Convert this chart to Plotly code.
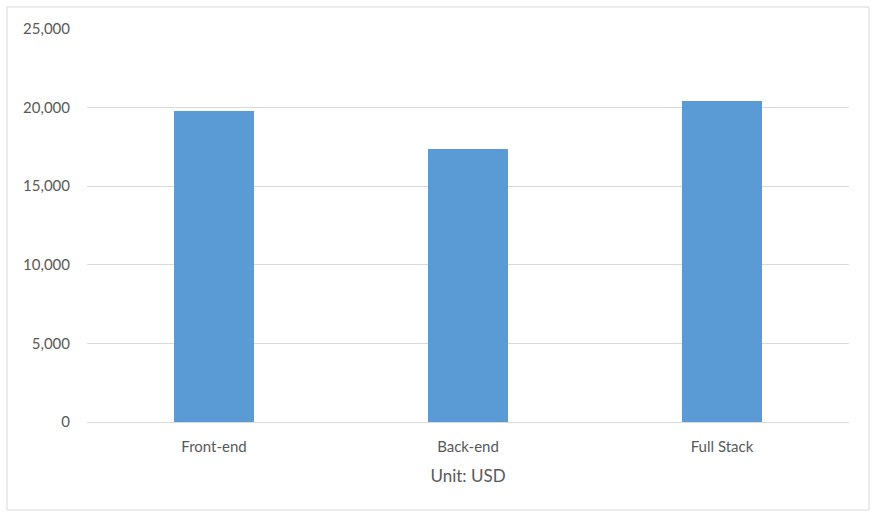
import plotly.graph_objects as go

categories = ["Front-end", "Back-end", "Full Stack"]
values = [19780, 17370, 20420]
y_ticks = [0, 5000, 10000, 15000, 20000, 25000]
y_tick_labels = ["0", "5,000", "10,000", "15,000", "20,000", "25,000"]

fig = go.Figure(go.Bar(x=categories, y=values, marker=dict(color="#5b9bd5", line=dict(width=0)), width=0.315))

font_family = "Lato, 'Open Sans', sans-serif"
fig.update_layout(
    width=877, height=517,
    margin=dict(l=87, r=28, t=29, b=95),
    paper_bgcolor="white", plot_bgcolor="white",
    showlegend=False,
    font=dict(family=font_family, color="#595959", size=15),
    xaxis=dict(
        showgrid=False, showline=False, ticks="", tickfont=dict(size=15, color="#595959"),
        ticklabelstandoff=14,
        title=dict(text="Unit: USD", font=dict(size=17, color="#595959"), standoff=16),
    ),
    yaxis=dict(
        range=[0, 25000], tickvals=y_ticks, ticktext=y_tick_labels,
        showgrid=True, gridcolor="#d9d9d9", gridwidth=1,
        zeroline=True, zerolinecolor="#d9d9d9", zerolinewidth=1,
        showline=False, ticks="", ticklabelstandoff=16,
        tickfont=dict(size=15, color="#595959"),
    ),
    shapes=[dict(type="rect", xref="paper", yref="paper",
                 x0=(7 - 87) / 762, x1=(869 - 87) / 762,
                 y0=(422 - 510) / 393, y1=(422 - 7) / 393,
                 line=dict(color="#d9d9d9", width=1), fillcolor="rgba(0,0,0,0)", layer="below")],
)

fig.write_html("out.html", config={"displayModeBar": False},
               post_script="document.body.style.margin='0px';")
